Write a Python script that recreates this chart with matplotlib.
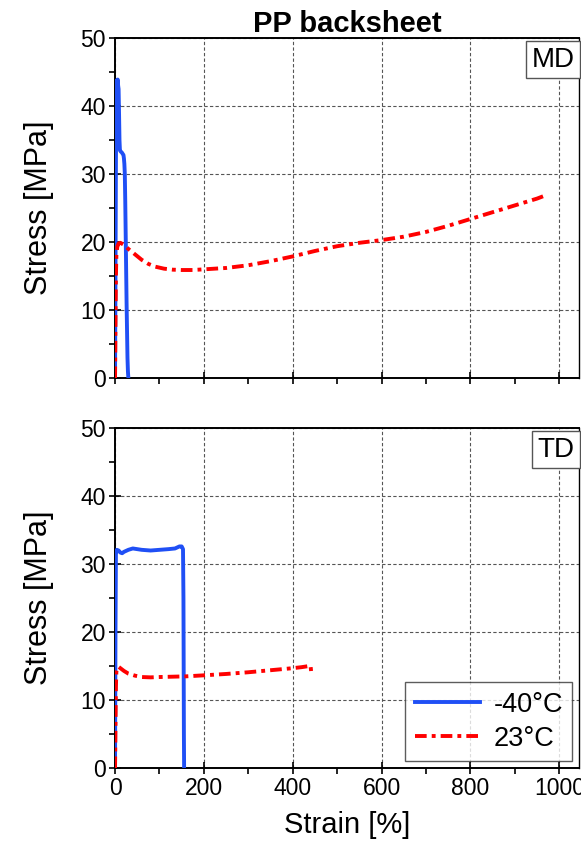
import matplotlib
matplotlib.use("Agg")
import matplotlib.pyplot as plt
from matplotlib.ticker import MultipleLocator

plt.rcParams["font.family"] = ["Liberation Sans", "DejaVu Sans"]

# MD, -40 C
md_cold_strain = [0, 1, 2, 3, 4, 5, 6, 7, 8, 9, 10, 11, 13, 15, 17, 19, 20, 21, 22, 23, 24, 25, 26, 27, 28, 29, 30]
md_cold_stress = [0, 15, 32, 42, 43.8, 43.2, 43.9, 43.0, 42.5, 39, 35, 33.5, 33.3, 33.2, 33.0, 32.8, 32.3, 31.5, 30, 26, 21, 16, 11, 7, 3, 1, 0]
# MD, 23 C
md_warm_strain = [0, 1, 2, 3, 5, 8, 12, 20, 30, 45, 60, 75, 90, 110, 130, 150, 175, 200, 250, 300, 350, 400,
                  450, 500, 550, 600, 650, 700, 750, 800, 850, 900, 950, 970]
md_warm_stress = [0, 8, 15, 18, 19.3, 19.8, 19.9, 19.6, 19.0, 18.2, 17.4, 16.8, 16.4, 16.1, 15.95, 15.9, 15.9,
                  16.0, 16.2, 16.6, 17.2, 17.9, 18.7, 19.4, 19.9, 20.3, 20.8, 21.5, 22.4, 23.4, 24.4, 25.4, 26.4, 26.9]

# TD, -40 C
td_cold_strain = [0, 1, 2, 4, 8, 12, 16, 20, 30, 40, 60, 80, 100, 120, 135, 145, 150, 153, 154, 155, 155.5]
td_cold_stress = [0, 20, 31.5, 32.1, 32.0, 31.7, 31.6, 31.8, 32.1, 32.3, 32.1, 32.0, 32.1, 32.2, 32.3, 32.6,
                  32.6, 32.2, 25, 5, 0]
# TD, 23 C
td_warm_strain = [0, 1, 2, 3, 5, 8, 12, 20, 30, 45, 60, 80, 100, 130, 160, 200, 250, 300, 350, 400, 420, 435,
                  440, 441, 442]
td_warm_stress = [0, 6, 12, 14.2, 14.8, 14.9, 14.7, 14.3, 13.9, 13.6, 13.4, 13.35, 13.4, 13.45, 13.5, 13.65,
                  13.85, 14.1, 14.4, 14.7, 14.85, 15.0, 15.1, 14.5, 13.8]

blue = "#1f4ff5"
red = "#ff0000"
dashdot = (0, (3, 1.3, 1, 1.3))

fig = plt.figure(figsize=(5.81, 8.46), dpi=100)
ax_md = fig.add_axes([0.198, 0.553, 0.799, 0.402])
ax_td = fig.add_axes([0.198, 0.092, 0.799, 0.402])

panels = [
    (ax_md, md_cold_strain, md_cold_stress, md_warm_strain, md_warm_stress, "MD"),
    (ax_td, td_cold_strain, td_cold_stress, td_warm_strain, td_warm_stress, "TD"),
]

for ax, cs, cy, ws, wy, tag in panels:
    ax.plot(cs, cy, color=blue, lw=2.8, label="-40°C", zorder=3)
    ax.plot(ws, wy, color=red, lw=2.8, ls=dashdot, label="23°C", zorder=3)
    ax.set_xlim(0, 1045)
    ax.set_ylim(0, 50)
    ax.xaxis.set_major_locator(MultipleLocator(200))
    ax.xaxis.set_minor_locator(MultipleLocator(100))
    ax.yaxis.set_major_locator(MultipleLocator(10))
    ax.yaxis.set_minor_locator(MultipleLocator(5))
    ax.tick_params(which="major", direction="inout", length=9, width=1.2, labelsize=16.5, pad=2)
    ax.tick_params(which="minor", direction="out", length=4, width=1.2)
    ax.grid(True, which="major", ls=(0, (3, 2)), color="#555555", lw=0.8)
    for side in ["left", "bottom", "top"]:
        ax.spines[side].set_linewidth(1.4)
    ax.spines["right"].set_linewidth(1.0)
    ax.set_ylabel("Stress [MPa]", fontsize=22, labelpad=19)
    ax.text(0.99, 0.975, tag, transform=ax.transAxes, ha="right", va="top", fontsize=20,
            bbox=dict(boxstyle="square,pad=0.2", fc="white", ec="#555555", lw=1.0), zorder=5)

ax_md.tick_params(labelbottom=False)
ax_md.set_title("PP backsheet", fontsize=21, fontweight="bold", pad=1)
ax_td.set_xlabel("Strain [%]", fontsize=21, labelpad=8)

leg = ax_td.legend(loc="lower right", fontsize=19.5, handlelength=2.4, frameon=True, fancybox=False,
                   borderpad=0.35, labelspacing=0.3, handletextpad=0.5, borderaxespad=0.25)
leg.get_frame().set_edgecolor("#333333")
leg.get_frame().set_linewidth(1.0)

fig.savefig("out.png", dpi=100)
